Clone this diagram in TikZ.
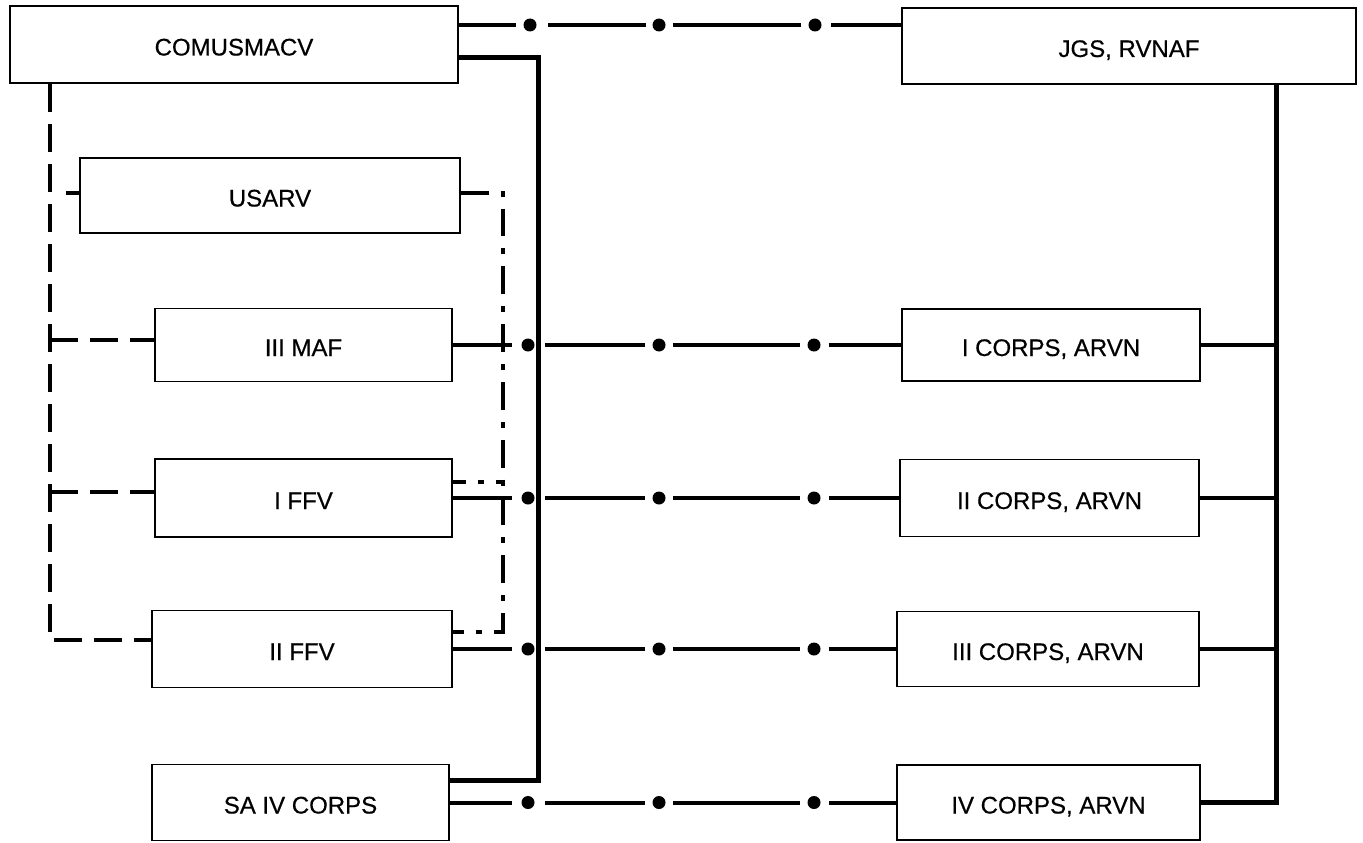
\documentclass[tikz,border=0pt]{standalone}
\usepackage{fontspec}
\setmainfont{Liberation Sans}
\newfontfamily\boxfont{Liberation Sans}[FakeBold=0.5]
\begin{document}
\begin{tikzpicture}[x=1pt,y=-1pt,
  box/.style={draw,line width=1.7pt,inner sep=0pt,text height=22pt,text depth=0pt,
    font=\boxfont\fontsize{24}{28}\selectfont},
  solidlink/.style={line width=4pt},
  bus/.style={line width=5pt},
  dashlink/.style={line width=4pt,dash pattern=on 28pt off 12pt},
  dotdash/.style={line width=4pt,dash pattern=on 27.8pt off 12pt on 6pt off 12pt},
  dotline/.style={line width=4pt},
  bigdot/.style={fill=black}]
\useasboundingbox (0,0) rectangle (1363,843);

% boxes
\node[box,minimum width=448pt,minimum height=77pt] (comus) at (234,44.5) {COMUSMACV\hspace{16pt}};
\node[box,minimum width=454pt,minimum height=76pt] (jgs) at (1129,46) {JGS, RVNAF\hspace{16pt}};
\node[box,minimum width=380pt,minimum height=75pt] (usarv) at (270,195.5) {USARV};
\node[box,minimum width=297pt,minimum height=73pt] (iiimaf) at (303.5,345) {III MAF};
\node[box,minimum width=297pt,minimum height=78pt] (iffv) at (303.5,498) {I FFV};
\node[box,minimum width=300pt,minimum height=77pt] (iiffv) at (302,649) {II FFV};
\node[box,minimum width=297pt,minimum height=76pt] (saiv) at (300.5,802.5) {SA IV CORPS};
\node[box,minimum width=298pt,minimum height=72pt] (icorps) at (1051,345) {I CORPS, ARVN\hspace{6pt}};
\node[box,minimum width=299pt,minimum height=77pt] (iicorps) at (1049.5,498) {II CORPS, ARVN};
\node[box,minimum width=302pt,minimum height=75pt] (iiicorps) at (1048,649) {III CORPS, ARVN};
\node[box,minimum width=303pt,minimum height=75pt] (ivcorps) at (1048.5,802.5) {IV CORPS, ARVN};

% helper coordinates
\coordinate (ytop) at (0,25);
\coordinate (ysolid) at (0,58);
\coordinate (sb) at (538,0);
\coordinate (sbbot) at (0,780);
\coordinate (rb) at (1276,0);
\coordinate (lb) at (50,0);
\coordinate (ymaf) at (0,340);
\coordinate (yiffv) at (0,492);
\coordinate (yiiffv) at (0,640);
\coordinate (ustub) at (66,193);
\coordinate (dd) at (503,0);
\coordinate (ddbr) at (0,482);
\coordinate (ddbot) at (0,632);

% COMUSMACV -- JGS (coordination line)
\draw[dotline,dash pattern=on 57pt off 32pt on 98pt off 27pt on 128pt off 30pt on 200pt]
  (comus.east |- ytop) -- (jgs.west |- ytop);
\foreach \x in {530,659,815} \fill[bigdot] (\x,25) circle[radius=6.5pt];

% coordination lines US -> ARVN corps
\draw[dotline,dash pattern=on 59pt off 33pt on 100pt off 28pt on 127pt off 29pt on 200pt]
  (iiimaf.east) -- (icorps.west);
\draw[dotline,dash pattern=on 59pt off 33pt on 100pt off 28pt on 127pt off 29pt on 200pt]
  (iffv.east) -- (iicorps.west);
\draw[dotline,dash pattern=on 59pt off 33pt on 100pt off 28pt on 127pt off 29pt on 200pt]
  (iiffv.east) -- (iiicorps.west);
\draw[dotline,dash pattern=on 62pt off 33pt on 100pt off 28pt on 127pt off 29pt on 200pt]
  (saiv.east) -- (ivcorps.west);
\foreach \y in {345,498,649,802.5}
  \foreach \x in {528,659,814} \fill[bigdot] (\x,\y) circle[radius=6.5pt];

% COMUSMACV -> SA IV CORPS (solid)
\draw[bus] (comus.east |- ysolid) -- (sb |- ysolid) -- (sb |- sbbot) -- (saiv.east |- sbbot);

% JGS -> ARVN corps (solid)
\draw[bus] (jgs.south -| rb) -- (rb |- ivcorps.east) -- (ivcorps.east);
\draw[solidlink] (icorps.east) -- (icorps.east -| rb);
\draw[solidlink] (iicorps.east) -- (iicorps.east -| rb);
\draw[solidlink] (iiicorps.east) -- (iiicorps.east -| rb);

% COMUSMACV -> US commands (dashed)
\draw[dashlink] (comus.south -| lb) -- (lb |- yiiffv) -- (iiffv.west |- yiiffv);
\draw[dashlink] (lb |- ymaf) -- (iiimaf.west |- ymaf);
\draw[dashlink] (lb |- yiffv) -- (iffv.west |- yiffv);
\draw[solidlink] (ustub) -- (usarv.west |- ustub);

% USARV -> field forces (dash-dot)
\draw[dotdash] (usarv.east |- ustub) -- (dd |- ustub) -- (dd |- ddbot) -- (iiffv.east |- ddbot);
\draw[dotdash,dash phase=14.8pt] (iffv.east |- ddbr) -- (dd |- ddbr);
\end{tikzpicture}
\end{document}
